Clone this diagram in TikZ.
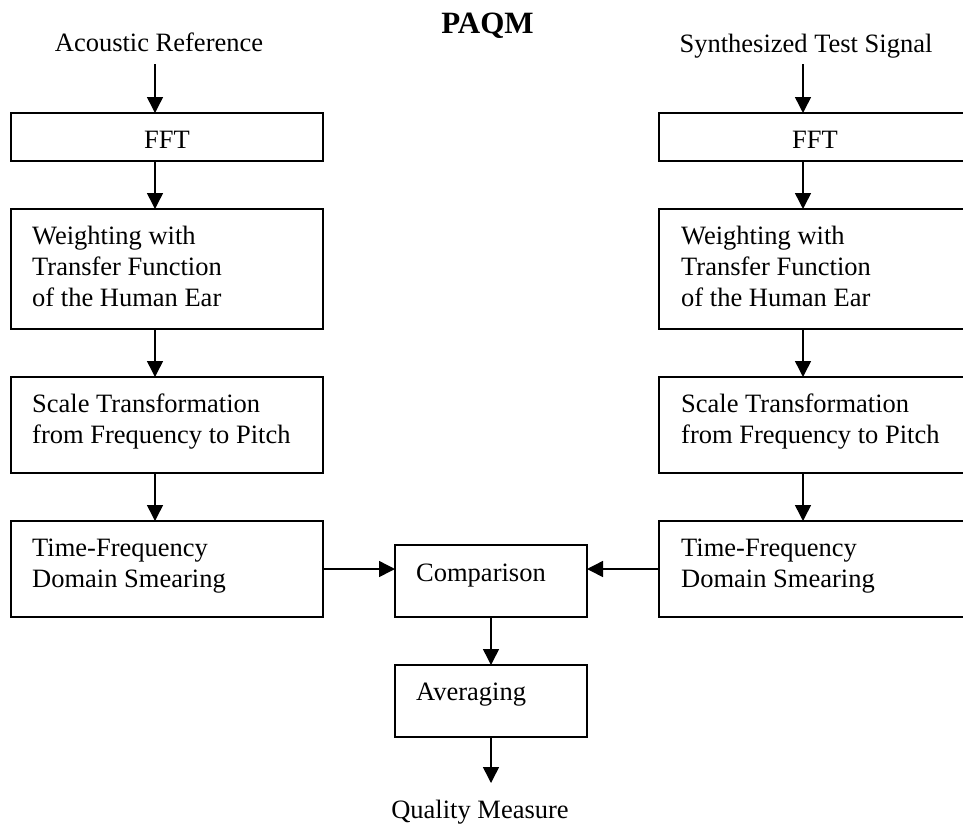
\documentclass[tikz,border=0pt]{standalone}
\usepackage{fontspec}
\setmainfont{Liberation Serif}
\usetikzlibrary{arrows.meta,calc}
\begin{document}
\begin{tikzpicture}[x=1pt,y=-1pt,
  box/.style={draw, line width=1.5pt, rectangle, inner sep=0pt, outer sep=0pt, anchor=north west},
  txt/.style={inner sep=0pt, font=\fontsize{26.5}{31}\selectfont, anchor=base west},
  ctxt/.style={inner sep=0pt, font=\fontsize{26.5}{31}\selectfont, anchor=base},
  arr/.style={line width=1.5pt, -{Triangle[width=16pt,length=16pt]}}]
\useasboundingbox (0,0) rectangle (963,825);
\clip (0,0) rectangle (963,825);
% boxes, left column
\node[box, minimum width=312pt, minimum height=48pt] (lfft) at (11,113) {};
\node[box, minimum width=312pt, minimum height=120pt] (lw) at (11,209) {};
\node[box, minimum width=312pt, minimum height=96pt] (ls) at (11,377) {};
\node[box, minimum width=312pt, minimum height=96pt] (lt) at (11,521) {};
% boxes, right column
\node[box, minimum width=312pt, minimum height=48pt] (rfft) at (659,113) {};
\node[box, minimum width=312pt, minimum height=120pt] (rw) at (659,209) {};
\node[box, minimum width=312pt, minimum height=96pt] (rs) at (659,377) {};
\node[box, minimum width=312pt, minimum height=96pt] (rt) at (659,521) {};
% middle
\node[box, minimum width=192pt, minimum height=72pt] (cmp) at (395,545) {};
\node[box, minimum width=192pt, minimum height=72pt] (avg) at (395,665) {};
% texts
\node[ctxt, font=\fontsize{31}{36}\selectfont\bfseries] (title) at (487.5,33) {PAQM};
\node[ctxt] (tacr) at (159,51) {Acoustic Reference};
\node[ctxt] (tsyn) at (806,52) {Synthesized Test Signal};
\node[ctxt] (lfftt) at (167,148) {FFT};
\node[ctxt] (rfftt) at (815,148) {FFT};
\node[txt] (lwt) at (32,244) {\begin{tabular}[t]{@{}l@{}}Weighting with\\Transfer Function\\of the Human Ear\end{tabular}};
\node[txt] (rwt) at (681,244) {\begin{tabular}[t]{@{}l@{}}Weighting with\\Transfer Function\\of the Human Ear\end{tabular}};
\node[txt] (lst) at (32,412) {\begin{tabular}[t]{@{}l@{}}Scale Transformation\\from Frequency to Pitch\end{tabular}};
\node[txt] (rst) at (681,412) {\begin{tabular}[t]{@{}l@{}}Scale Transformation\\from Frequency to Pitch\end{tabular}};
\node[txt] (ltt) at (32,556) {\begin{tabular}[t]{@{}l@{}}Time-Frequency\\Domain Smearing\end{tabular}};
\node[txt] (rtt) at (681,556) {\begin{tabular}[t]{@{}l@{}}Time-Frequency\\Domain Smearing\end{tabular}};
\node[txt] (cmpt) at (416,581) {Comparison};
\node[txt] (avgt) at (416,700) {Averaging};
\node[ctxt] (tqm) at (480,818) {Quality Measure};
% helper coordinates
\coordinate (lx) at (155,0);
\coordinate (rx) at (803,0);
\coordinate (hy) at (0,569);
\coordinate (lin) at (155,64);
\coordinate (rin) at (803,64);
\coordinate (qout) at (491,783);
% connectors
\draw[arr] (lin) -- (lfft.north -| lx);
\draw[arr] (lfft.south -| lx) -- (lw.north -| lx);
\draw[arr] (lw.south -| lx) -- (ls.north -| lx);
\draw[arr] (ls.south -| lx) -- (lt.north -| lx);
\draw[arr] (rin) -- (rfft.north -| rx);
\draw[arr] (rfft.south -| rx) -- (rw.north -| rx);
\draw[arr] (rw.south -| rx) -- (rs.north -| rx);
\draw[arr] (rs.south -| rx) -- (rt.north -| rx);
\draw[arr] (lt.east |- hy) -- (cmp.west |- hy);
\draw[arr] (rt.west |- hy) -- (cmp.east |- hy);
\draw[arr] (cmp.south) -- (avg.north);
\draw[arr] (avg.south) -- (qout);
\end{tikzpicture}
\end{document}
